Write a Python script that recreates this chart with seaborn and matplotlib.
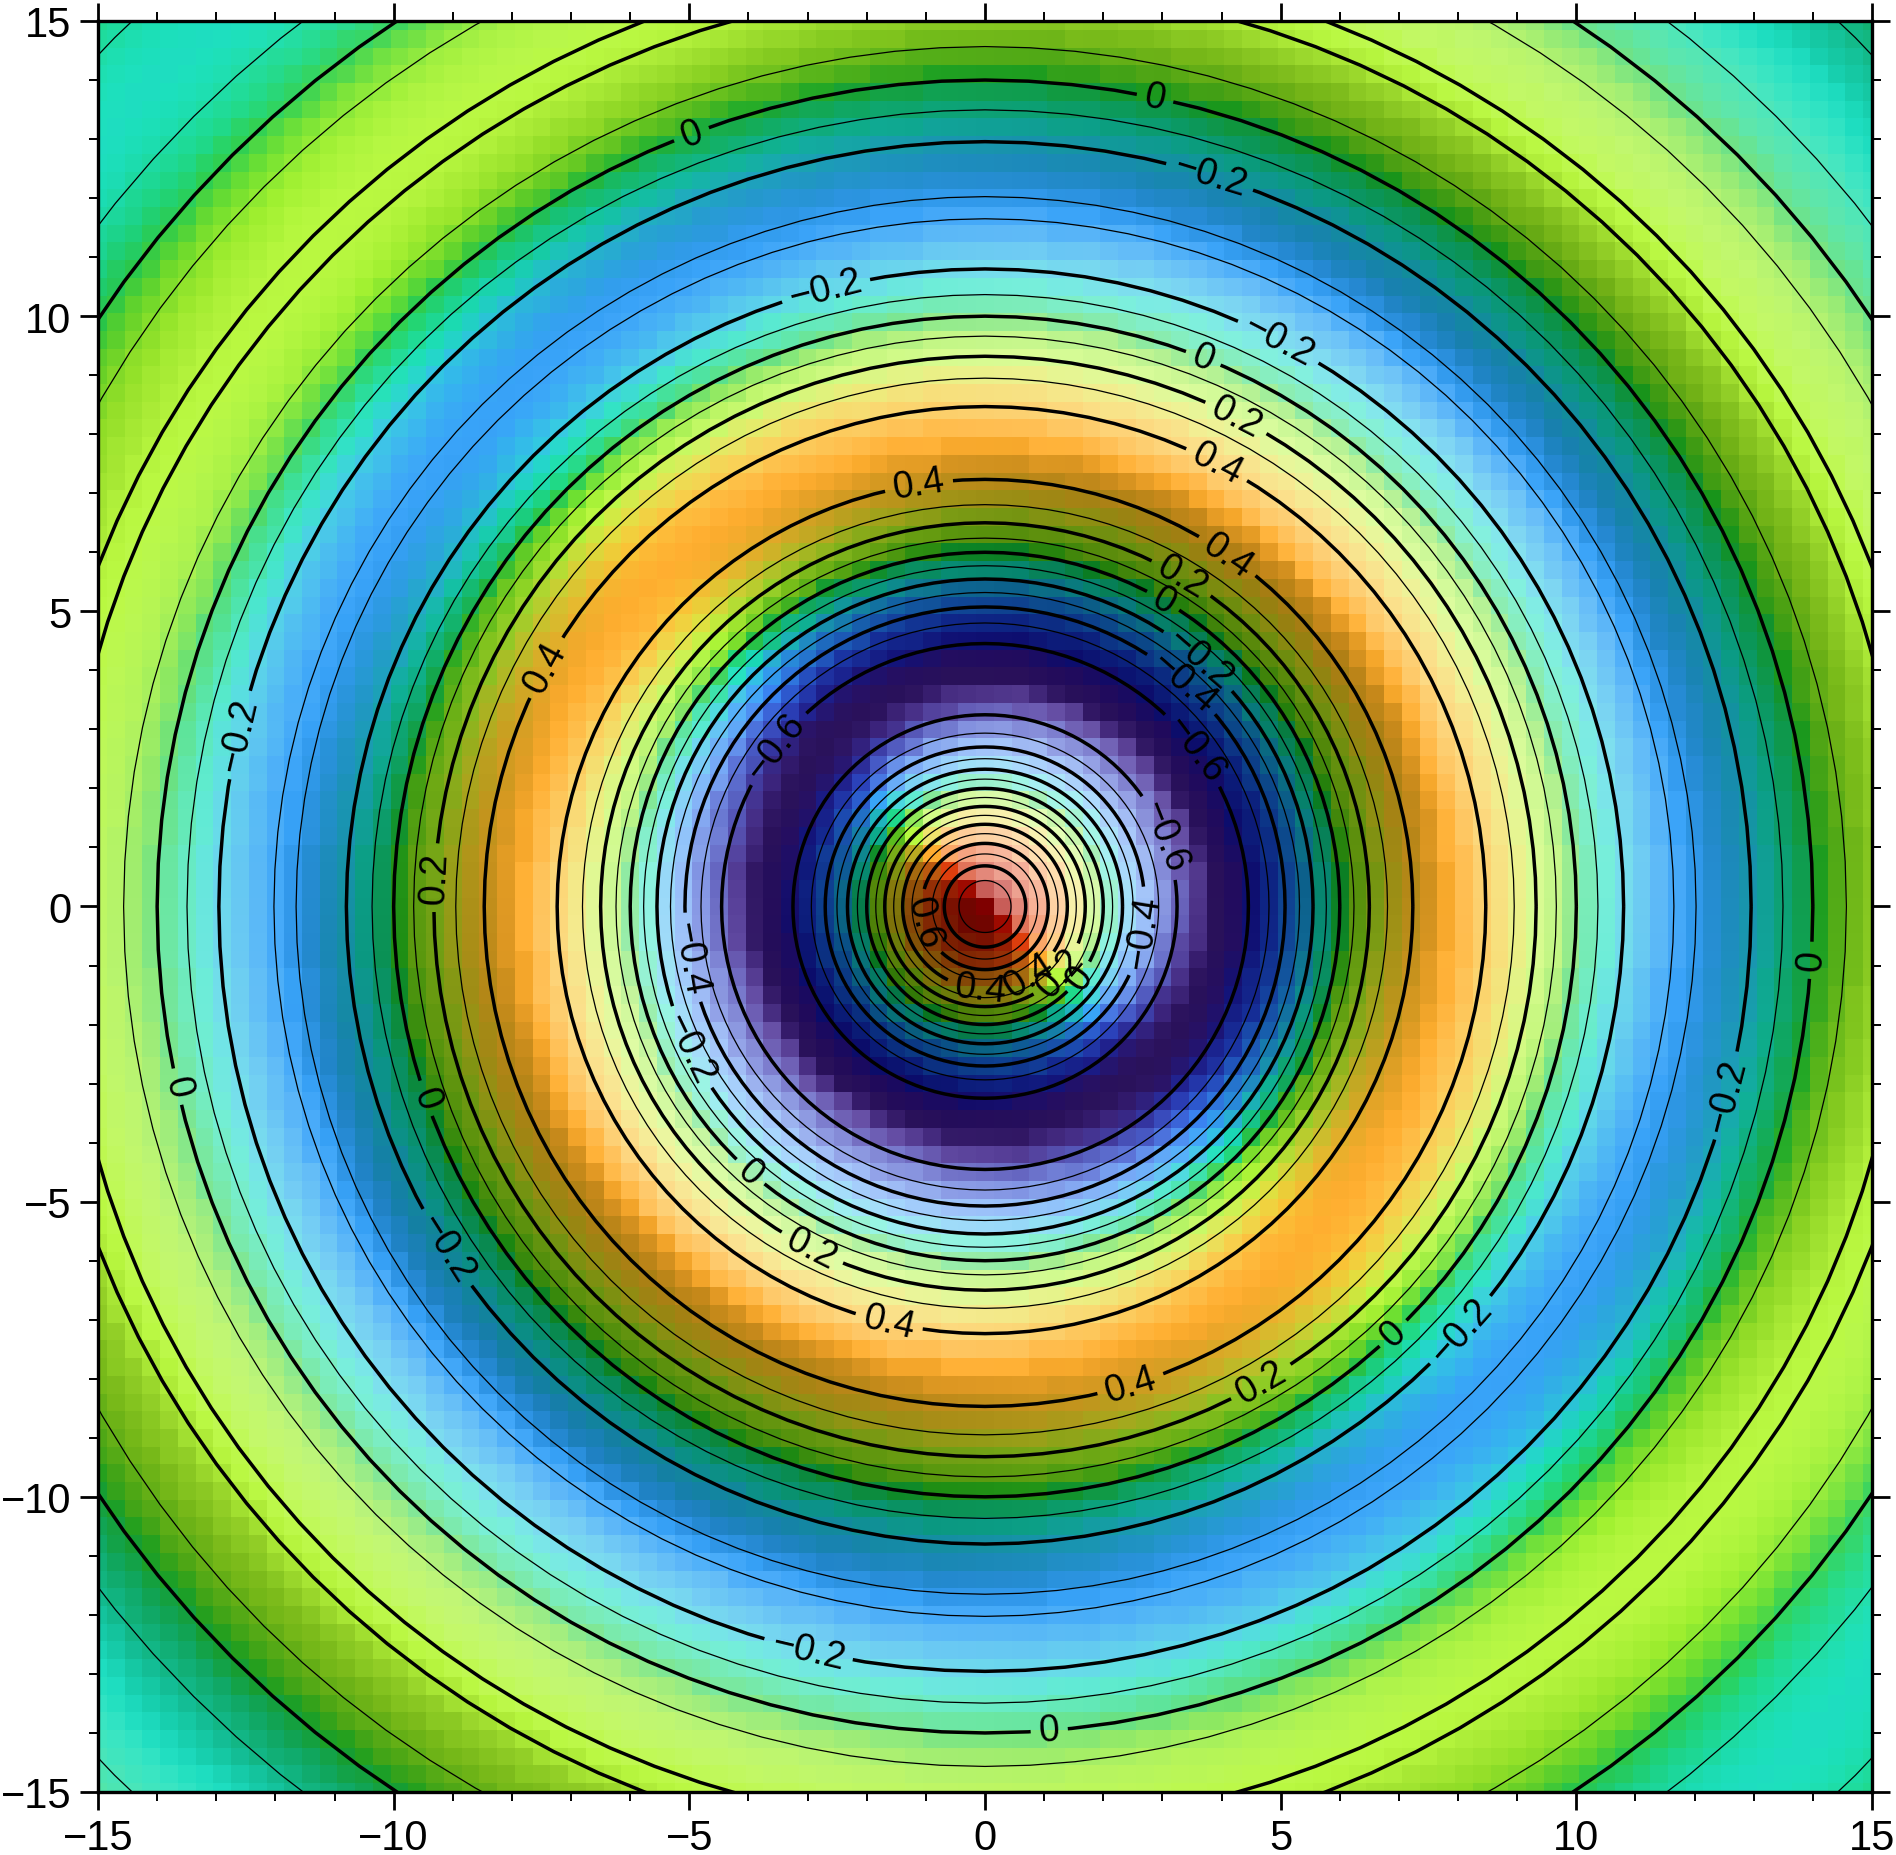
import numpy as np
import matplotlib
matplotlib.use('Agg')
import matplotlib.pyplot as plt
from matplotlib.colors import LinearSegmentedColormap, rgb_to_hsv, hsv_to_rgb
import seaborn as sns

# Surface height along a radius, one value per 0.1 of radius, hand tabulated as
# a damped cosine that fits the contour crossings and colours of the picture.
# The picture is round, so every cell takes the value of its nearest radius.
radial_height = [
    1.000, .987, .968, .944, .914, .879, .839, .795, .747, .695,
    .640, .582, .521, .459, .395, .329, .263, .197, .131, .065,
    .000, -.064, -.126, -.185, -.243, -.298, -.350, -.399, -.444, -.486,
    -.524, -.558, -.588, -.613, -.634, -.651, -.664, -.672, -.675, -.675,
    -.670, -.662, -.649, -.633, -.613, -.589, -.563, -.533, -.501, -.466,
    -.429, -.390, -.349, -.308, -.265, -.221, -.177, -.132, -.088, -.044,
    .000, .043, .084, .124, .163, .200, .235, .267, .298, .326,
    .351, .374, .394, .411, .425, .436, .445, .450, .453, .453,
    .449, .444, .435, .424, .411, .395, .377, .357, .336, .312,
    .288, .261, .234, .206, .177, .148, .118, .089, .059, .029,
    .000, -.029, -.056, -.083, -.109, -.134, -.157, -.179, -.200, -.218,
    -.235, -.251, -.264, -.275, -.285, -.293, -.298, -.302, -.304, -.303,
    -.301, -.297, -.292, -.284, -.275, -.265, -.253, -.239, -.225, -.209,
    -.193, -.175, -.157, -.138, -.119, -.099, -.079, -.059, -.039, -.020,
    .000, .019, .038, .056, .073, .090, .105, .120, .134, .146,
    .158, .168, .177, .185, .191, .196, .200, .202, .203, .203,
    .202, .199, .196, .191, .185, .177, .169, .161, .151, .140,
    .129, .118, .105, .093, .080, .067, .053, .040, .026, .013,
    .000, -.013, -.025, -.037, -.049, -.060, -.071, -.081, -.090, -.098,
    -.106, -.113, -.119, -.124, -.128, -.132, -.134, -.136, -.136, -.136,
    -.135, -.134, -.131, -.128, -.124, -.119, -.114, -.108, -.101, -.094,
    -.087, -.079, -.071, -.062,
]

color_heights = [-.70, -.65, -.60, -.50, -.40, -.30, -.20, -.13, -.05, 0, .06, .13, .20, .30, .38, .45, .60, .72, .87,
                 1.0]
color_values = ['#2a1050', '#2a1468', '#22208c', '#2e4cc8', '#3a80f0', '#38a4f8', '#30c8e0', '#1ce0bc', '#20d880',
                '#30d050', '#70e030', '#a0f030', '#b8f840', '#e0e040', '#f8c838', '#ffb030', '#f87820', '#e84810',
                '#b01000', '#7f0000']

major_ticks = [-15, -10, -5, 0, 5, 10, 15]
minor_ticks = list(range(-15, 16))
thick_levels = [-.6, -.4, -.2, 0, .2, .4, .6, .8]
thin_levels = [-.5, -.3, -.1, .1, .3, .5, .7, .9]

# where the contour labels sit, in x, y units of the axes
label_spots = [
    (2.87, 13.66), (-4.96, 13.07), (13.95, -0.91), (-13.69, -3.06), (1.09, -14.0), (-9.51, -3.27),
    (3.66, 9.21), (3.0, 5.16), (-3.99, -4.52), (6.92, -7.25), (1.6, -1.2),
    (3.79, 12.33), (-2.69, 10.44), (4.98, 9.6), (-12.62, 2.91), (12.6, -3.22), (-9.2, -5.84),
    (-3.0, -12.65), (8.07, -7.2), (-5.12, -2.46), (3.64, 4.2), (1.25, -1.1),
    (4.24, 8.27), (3.3, 5.53), (-9.32, 0.49), (-2.95, -5.84), (4.69, -8.09), (0.8, -1.25),
    (-7.43, 4.05), (-1.12, 7.15), (4.1, 5.94), (3.91, 7.47), (-1.63, -7.07), (2.46, -8.09), (-0.07, -1.4),
    (-5.0, -0.87), (3.34, 3.79), (2.5, -0.4), (-3.48, 2.66), (3.48, 2.62), (2.87, 1.13), (-1.1, -0.3),
]

sns.set_theme(style='ticks')
plt.rcParams['font.family'] = ['Liberation Sans', 'DejaVu Sans']

heights = np.array(radial_height)
nodes = np.arange(-50, 51) * 0.3
grid_x, grid_y = np.meshgrid(nodes, nodes[::-1])
radius = np.hypot(grid_x, grid_y)
ring = np.rint(radius / 0.1).astype(int)
surface = heights[ring]

lo, hi = color_heights[0], color_heights[-1]
stops = [((h - lo) / (hi - lo), c) for h, c in zip(color_heights, color_values)]
cmap = LinearSegmentedColormap.from_list('rings', stops, N=512)


def x_pos(v):
    return (np.asarray(v) + 15) / 0.3 + 0.5


def y_pos(v):
    return (15 - np.asarray(v)) / 0.3 + 0.5


def label_text(v):
    v = round(float(v), 1)
    if v == 0:
        return '0'
    return f'{v:.1f}'.replace('-', '\u2212')


def illuminate(rgb, slope):
    """Ombrage façon relief, lumière venant du nord-est."""
    level = 0.82 * (2 / np.pi) * np.arctan(slope / 0.14)
    hsv = rgb_to_hsv(rgb)
    s, v = hsv[..., 1], hsv[..., 2]
    up = level > 0
    a = np.abs(level)
    hsv[..., 1] = np.where(up, (1 - a) * s + a * 0.1, (1 - a) * s + a * 1.0)
    hsv[..., 2] = np.where(up, (1 - a) * v + a * 1.0, (1 - a) * v + a * 0.3)
    return hsv_to_rgb(hsv)


fig = plt.figure(figsize=(9.48, 9.28), dpi=200)
ax = fig.add_axes([98 / 1896, 1 - 1793 / 1856, 1774 / 1896, 1771 / 1856])

sns.heatmap(surface, cmap=cmap, vmin=lo, vmax=hi, cbar=False, xticklabels=False, yticklabels=False,
            square=False, ax=ax)

# la pente radiale vers le nord-est donne la lumière de chaque cellule
radial_slope = np.gradient(heights, 0.1)[ring]
facing = (grid_x + grid_y) / (np.sqrt(2) * np.where(radius == 0, 1, radius))
slope = -radial_slope * facing
mesh = ax.collections[0]
rgba = mesh.to_rgba(mesh.get_array()).reshape(surface.shape + (4,))
shaded = illuminate(rgba[..., :3], slope)
mesh.set_array(None)
mesh.set_facecolor(np.column_stack([shaded.reshape(-1, 3), np.ones(surface.size)]))
mesh.set_edgecolor('face')
mesh.set_linewidth(0)

# contours tracés sur le profil lui-même, en coordonnées polaires
stations = np.arange(len(heights)) * 0.1
angles = np.deg2rad(np.arange(0, 361, 3))
polar_r, polar_a = np.meshgrid(stations, angles)
polar_x = x_pos(polar_r * np.cos(polar_a))
polar_y = y_pos(polar_r * np.sin(polar_a))
polar_z = np.tile(heights, (len(angles), 1))

ax.contour(polar_x, polar_y, polar_z, levels=thin_levels, colors='black', linewidths=0.45,
           negative_linestyles='solid')
thick = ax.contour(polar_x, polar_y, polar_z, levels=thick_levels, colors='black', linewidths=1.25,
                   negative_linestyles='solid')
spots = [(float(x_pos(x)), float(y_pos(y))) for x, y in label_spots]
ax.clabel(thick, manual=spots, fmt=label_text, fontsize=13.5, inline=True, inline_spacing=8, colors='black')

ax.set_xlim(0.5, 100.5)
ax.set_ylim(100.5, 0.5)

ax.set_xticks(x_pos(major_ticks))
ax.set_xticklabels([label_text(t).replace('.0', '') for t in major_ticks])
ax.set_yticks(y_pos(major_ticks))
ax.set_yticklabels([label_text(t).replace('.0', '') for t in major_ticks], rotation=0)
ax.set_xticks(x_pos(minor_ticks), minor=True)
ax.set_yticks(y_pos(minor_ticks), minor=True)
ax.tick_params(axis='both', which='major', direction='out', length=6.5, width=1.0, labelsize=15, color='black',
               labelcolor='black', top=True, right=True, bottom=True, left=True, pad=3)
ax.tick_params(axis='both', which='minor', direction='out', length=3.2, width=0.7, color='black',
               top=True, right=True, bottom=True, left=True)
for spine in ax.spines.values():
    spine.set_visible(True)
    spine.set_linewidth(1.2)
    spine.set_color('black')

fig.savefig('out.png', dpi=200, facecolor='white')
plt.close(fig)
